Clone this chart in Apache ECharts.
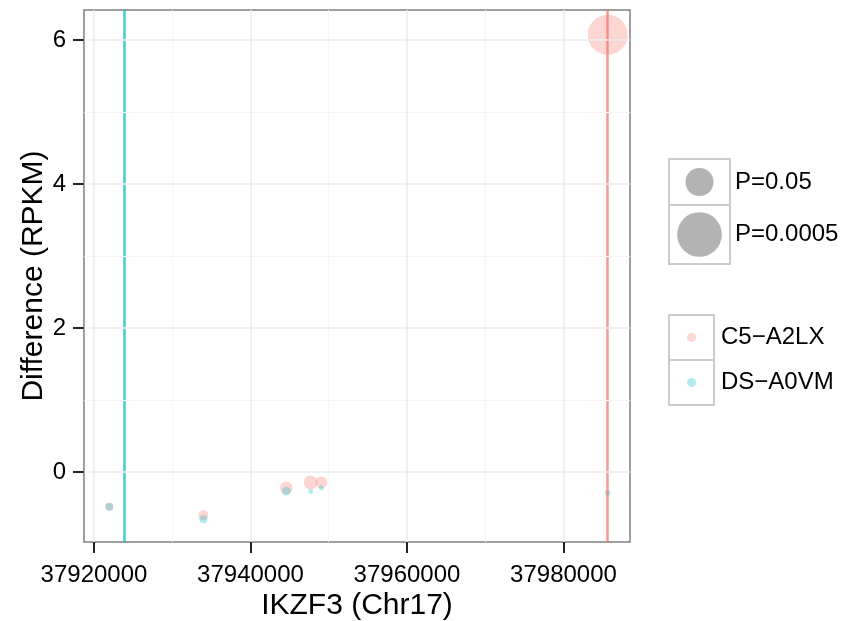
<!DOCTYPE html>
<html>
<head>
<meta charset="utf-8">
<script src="https://cdn.jsdelivr.net/npm/echarts@6/dist/echarts.min.js"></script>
<style>html,body{margin:0;padding:0;background:#fff;}#c{width:866px;height:621px;}</style>
</head>
<body>
<div id="c"></div>
<script>
// ---- data ----
const positions = [37921955, 37933970, 37944575, 37947693, 37949050, 37985650];
const c5Diff = [-0.48, -0.60, -0.217, -0.143, -0.143, 6.076];
const c5Sig = [0.106, 0.165, 0.262, 0.324, 0.238, 2.64];   // -log10(P)
const dsDiff = [-0.48, -0.655, -0.263, -0.27, -0.22, -0.29];
const dsSig = [0.106, 0.106, 0.134, 0.041, 0.041, 0.06];   // -log10(P)
const c5Line = 37985650;
const dsLine = 37923834;
const xTicks = [37920000, 37940000, 37960000, 37980000];
const xMinor = [37930000, 37950000, 37970000];
const yTicks = [0, 2, 4, 6];
const yMinor = [1, 3, 5];
const sizeLegendP = [0.05, 0.0005];
const sampleNames = ['C5\u2212A2LX', 'DS\u2212A0VM'];

const FONT = "'Liberation Sans', Arial, Helvetica, sans-serif";
const RED = '#F8766D', CYAN = '#00BFC4';
const radius = s => 12.3 * Math.sqrt(s);

const chart = echarts.init(document.getElementById('c'), null, {renderer: 'canvas'});

function gridLines(vals, axis, color, width) {
  return vals.map(v => ({[axis]: v, lineStyle: {color: color, width: width, type: 'solid'}}));
}

const sizeLabels = sizeLegendP.map(p => 'P=' + p);
const sizeR = sizeLegendP.map(p => radius(-Math.log10(p)));

const graphics = [];
// size legend
const cellTops = [159, 205], cellH = [46, 59];
for (let i = 0; i < 2; i++) {
  graphics.push({type: 'rect', shape: {x: 669, y: cellTops[i], width: 61, height: cellH[i]},
    style: {fill: '#fff', stroke: '#CCCCCC', lineWidth: 2}});
  graphics.push({type: 'circle', shape: {cx: 699.5, cy: cellTops[i] + cellH[i] / 2, r: sizeR[i]},
    style: {fill: '#B3B3B3'}});
  graphics.push({type: 'text', x: 735, y: cellTops[i] + cellH[i] / 2,
    style: {text: sizeLabels[i], font: '24px ' + FONT, fill: '#000', verticalAlign: 'middle', align: 'left'}});
}
// colour legend
const colCols = [RED, CYAN];
for (let i = 0; i < 2; i++) {
  const top = 315 + 45 * i;
  graphics.push({type: 'rect', shape: {x: 669, y: top, width: 45, height: 45},
    style: {fill: '#fff', stroke: '#CCCCCC', lineWidth: 2}});
  graphics.push({type: 'circle', shape: {cx: 691.5, cy: top + 22.5, r: 4.5},
    style: {fill: colCols[i], opacity: 0.3}});
  graphics.push({type: 'text', x: 721, y: top + 22.5,
    style: {text: sampleNames[i], font: '24px ' + FONT, fill: '#000', verticalAlign: 'middle', align: 'left'}});
}
// axis titles
graphics.push({type: 'text', x: 357, y: 606,
  style: {text: 'IKZF3 (Chr17)', font: '30px ' + FONT, fill: '#000', align: 'center', verticalAlign: 'middle'}});
graphics.push({type: 'text', x: 34, y: 276, rotation: Math.PI / 2,
  style: {text: 'Difference (RPKM)', font: '30px ' + FONT, fill: '#000', align: 'center', verticalAlign: 'middle'}});

const option = {
  animation: false,
  backgroundColor: '#fff',
  grid: {left: 84, right: 236, top: 10, bottom: 79, show: true, borderColor: '#7F7F7F', borderWidth: 1.5, backgroundColor: '#fff', containLabel: false},
  xAxis: {
    type: 'value', min: 37918722, max: 37988500,
    axisLine: {show: false, onZero: false},
    splitLine: {show: false},
    axisTick: {show: true, inside: false, length: 11, lineStyle: {color: '#222', width: 2}, customValues: xTicks},
    axisLabel: {show: true, customValues: xTicks, color: '#000', fontSize: 24, fontFamily: FONT, margin: 21, formatter: v => String(v)}
  },
  yAxis: {
    type: 'value', min: -0.97, max: 6.42,
    axisLine: {show: false, onZero: false},
    splitLine: {show: false},
    axisTick: {show: true, inside: false, length: 11, lineStyle: {color: '#222', width: 2}, customValues: yTicks},
    axisLabel: {show: true, customValues: yTicks, color: '#000', fontSize: 24, fontFamily: FONT, margin: 18}
  },
  series: [
    {
      type: 'scatter', name: 'grid', data: [], silent: true, z: 0,
      markLine: {
        silent: true, symbol: 'none', label: {show: false}, animation: false,
        data: [].concat(
          gridLines(xMinor, 'xAxis', '#F5F5F5', 1),
          gridLines(yMinor, 'yAxis', '#F5F5F5', 1),
          gridLines(xTicks, 'xAxis', '#EBEBEB', 1.5),
          gridLines(yTicks, 'yAxis', '#EBEBEB', 1.5)
        )
      }
    },
    {
      type: 'scatter', name: sampleNames[0], z: 2,
      data: positions.map((p, i) => [p, c5Diff[i], c5Sig[i]]),
      symbolSize: d => 2 * radius(d[2]),
      itemStyle: {color: RED, opacity: 0.3},
      markLine: {silent: true, symbol: 'none', label: {show: false}, animation: false, z: 3,
        data: [{xAxis: c5Line}], lineStyle: {color: RED, opacity: 0.75, width: 2.5, type: 'solid'}}
    },
    {
      type: 'scatter', name: sampleNames[1], z: 2,
      data: positions.map((p, i) => [p, dsDiff[i], dsSig[i]]),
      symbolSize: d => 2 * radius(d[2]),
      itemStyle: {color: CYAN, opacity: 0.3},
      markLine: {silent: true, symbol: 'none', label: {show: false}, animation: false, z: 3,
        data: [{xAxis: dsLine}], lineStyle: {color: CYAN, opacity: 0.75, width: 2.5, type: 'solid'}}
    }
  ],
  graphic: graphics
};
chart.setOption(option);
</script>
</body>
</html>
